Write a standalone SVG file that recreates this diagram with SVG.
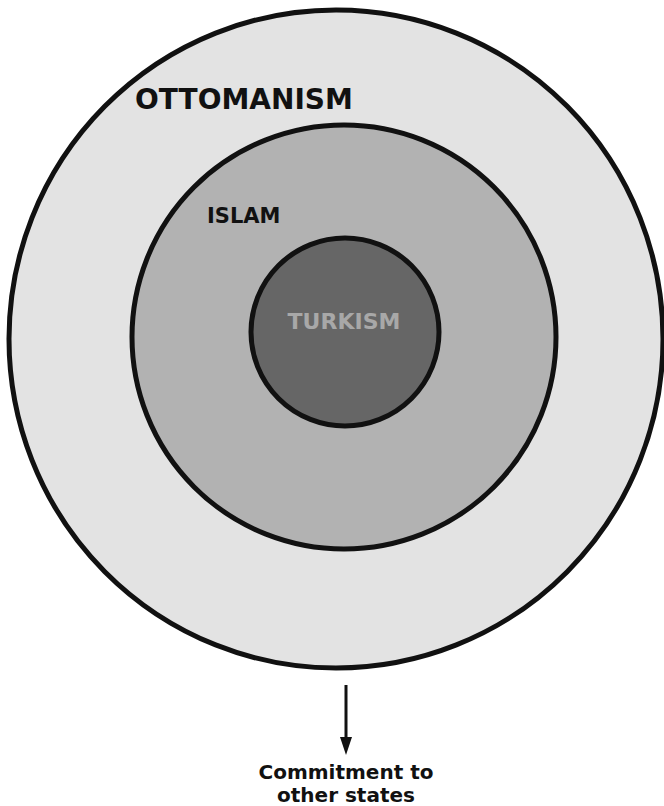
<svg xmlns="http://www.w3.org/2000/svg" width="664" height="806" viewBox="0 0 664 806">
<style>
.ring{stroke:#111;stroke-width:5}
.lbl{font-family:"DejaVu Sans",Verdana,sans-serif;font-weight:bold}
</style>
<rect width="664" height="806" fill="#fff"/>
<g id="ottomanism">
<ellipse class="ring" cx="336" cy="339" rx="327" ry="329" fill="#e3e3e3"/>
<text class="lbl" x="135" y="109" font-size="28" fill="#111">OTTOMANISM</text>
</g>
<g id="islam">
<circle class="ring" cx="344" cy="337" r="212" fill="#b2b2b2"/>
<text class="lbl" x="207" y="223" font-size="21" fill="#111">ISLAM</text>
</g>
<g id="turkism">
<circle class="ring" cx="345" cy="332" r="94" fill="#666"/>
<text class="lbl" x="344" y="329" font-size="22" fill="#a8a8a8" text-anchor="middle">TURKISM</text>
</g>
<g id="connectors">
<line x1="346" y1="685" x2="346" y2="740" stroke="#111" stroke-width="3"/>
<path d="M340,737 L352,737 L346,755 Z" fill="#111"/>
</g>
<g id="commitment">
<text class="lbl" x="346" y="779" font-size="20" fill="#111" text-anchor="middle">Commitment to</text>
<text class="lbl" x="346" y="802" font-size="20" fill="#111" text-anchor="middle">other states</text>
</g>
</svg>
